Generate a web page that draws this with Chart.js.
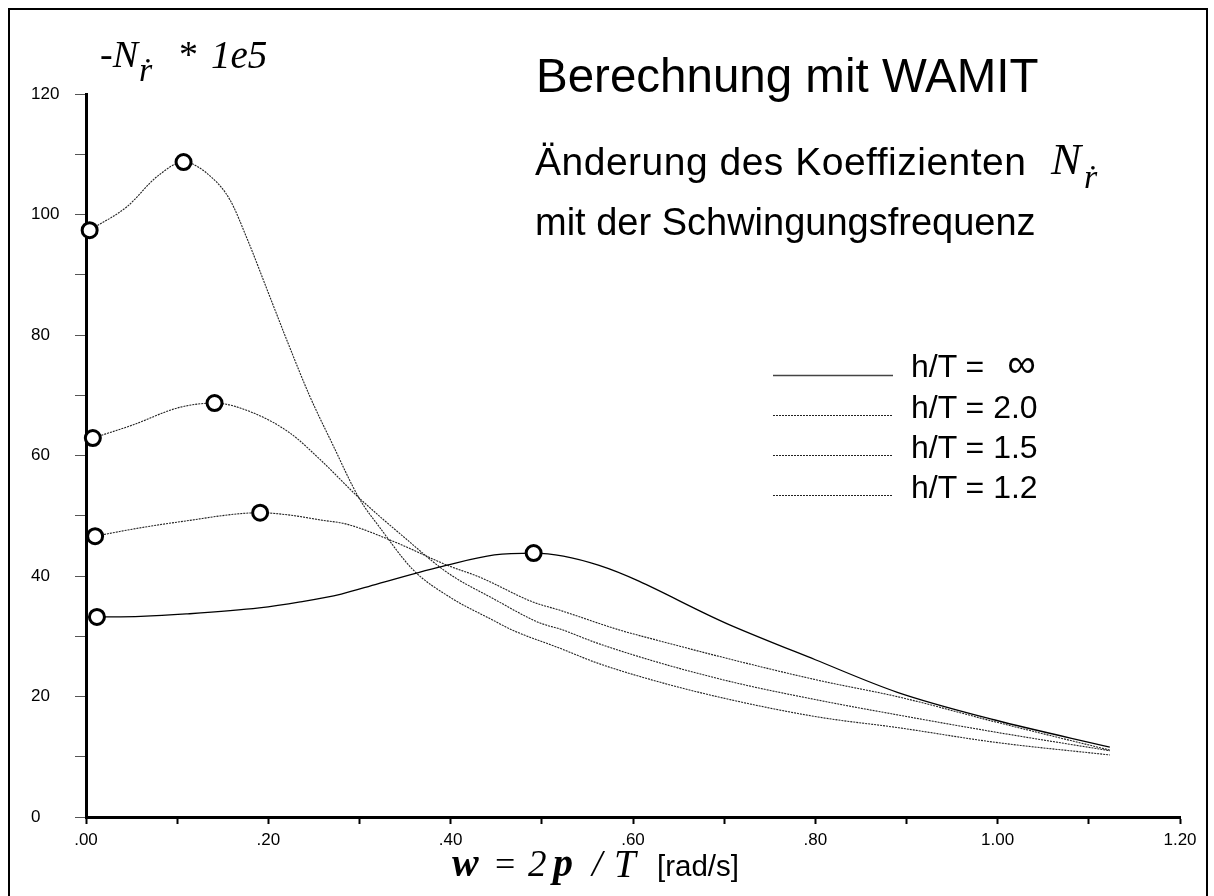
<!DOCTYPE html>
<html>
<head>
<meta charset="utf-8">
<script src="https://cdn.jsdelivr.net/npm/chart.js@4.4.1/dist/chart.umd.min.js"></script>
<style>
  body { margin: 0; background: #fff; width: 1214px; height: 896px; overflow: hidden; position: relative;
         font-family: Arial, "Liberation Sans", sans-serif; }
  #frame { position: absolute; left: 8px; top: 8px; width: 1196px; height: 940px; border: 2px solid #000; }
  #plot { position: absolute; left: 0; top: 0; }
  .t { position: absolute; white-space: nowrap; line-height: 1; color: #000; }
  .ser { font-family: "Liberation Serif", "Times New Roman", "DejaVu Serif", serif; font-style: italic; }
</style>
</head>
<body>
<div id="frame"></div>
<canvas id="plot" width="1214" height="896"></canvas>

<!-- y axis title -->
<div class="t ser" style="left:100px;top:35px;font-size:38px">-N</div>
<div class="t ser" style="left:139px;top:53px;font-size:34px">ṙ</div>
<div class="t ser" style="left:179px;top:35px;font-size:38px;font-style:normal">*</div>
<div class="t ser" style="left:211px;top:35px;font-size:39px">1e5</div>

<!-- headings -->
<div class="t" style="left:536px;top:52px;font-size:47.5px">Berechnung mit WAMIT</div>
<div class="t" style="left:535px;top:142px;font-size:39px;letter-spacing:0.5px">Änderung des Koeffizienten</div>
<div class="t ser" style="left:1051px;top:137px;font-size:45px">N</div>
<div class="t ser" style="left:1084px;top:160px;font-size:34px">ṙ</div>
<div class="t" style="left:535px;top:203px;font-size:38px">mit der Schwingungsfrequenz</div>

<!-- legend labels -->
<div class="t" style="left:911px;top:350px;font-size:32px">h/T = <span style="font-size:40px;line-height:0;margin-left:14px">∞</span></div>
<div class="t" style="left:911px;top:391px;font-size:32px">h/T = 2.0</div>
<div class="t" style="left:911px;top:431px;font-size:32px">h/T = 1.5</div>
<div class="t" style="left:911px;top:471px;font-size:32px">h/T = 1.2</div>

<!-- x axis title -->
<div class="t ser" style="left:452px;top:843px;font-size:40px;font-weight:bold">w</div>
<div class="t ser" style="left:495px;top:846px;font-size:36px;font-style:normal">=</div>
<div class="t ser" style="left:528px;top:845px;font-size:37px">2</div>
<div class="t ser" style="left:553px;top:843px;font-size:40px;font-weight:bold">p</div>
<div class="t ser" style="left:592px;top:845px;font-size:37px">/</div>
<div class="t ser" style="left:614px;top:844px;font-size:39px">T</div>
<div class="t" style="left:657px;top:851px;font-size:29.5px">[rad/s]</div>

<script>
// omega [rad/s] and -N_r' * 1e5 for each water depth ratio
const omegaInf = [0.012, 0.06, 0.11, 0.19, 0.235, 0.28, 0.32, 0.396, 0.448, 0.491, 0.562, 0.706, 0.80, 0.89, 0.997, 1.123];
const nrInf    = [33.2, 33.3, 33.7, 34.7, 35.7, 37.0, 38.7, 41.8, 43.5, 43.8, 41.8, 31.9, 26.1, 20.7, 16.1, 11.6];

const omega20 = [0.010, 0.052, 0.103, 0.191, 0.224, 0.257, 0.286, 0.341, 0.396, 0.432, 0.49, 0.52, 0.586, 0.625, 0.709, 0.803, 0.892, 0.997, 1.123];
const nr20    = [46.6, 47.8, 49.0, 50.5, 50.1, 49.3, 48.6, 45.5, 41.8, 39.8, 35.7, 34.3, 31.0, 29.4, 26.1, 22.7, 19.9, 15.8, 11.1];

const omega15 = [0.0075, 0.05, 0.103, 0.141, 0.183, 0.224, 0.257, 0.300, 0.35, 0.396, 0.446, 0.498, 0.52, 0.56, 0.629, 0.709, 0.803, 0.892, 0.997, 1.123];
const nr15    = [62.9, 65.0, 68.0, 68.7, 67.1, 63.7, 59.3, 52.9, 46.3, 40.6, 36.3, 32.2, 31.2, 28.9, 25.6, 22.4, 19.4, 16.9, 14.1, 11.0];

const omega12 = [0.004, 0.045, 0.078, 0.107, 0.139, 0.158, 0.178, 0.200, 0.222, 0.245, 0.27, 0.300, 0.322, 0.359, 0.399, 0.446, 0.468, 0.52, 0.56, 0.629, 0.709, 0.803, 0.892, 0.997, 1.123];
const nr12    = [97.4, 101.3, 106.3, 108.7, 106.0, 102.4, 95.5, 87.0, 78.5, 70.0, 62.0, 52.8, 48.1, 41.0, 36.5, 32.7, 31.0, 28.0, 25.6, 22.4, 19.4, 16.6, 14.8, 12.4, 10.3];

const seriesLabels = ['h/T = ∞', 'h/T = 2.0', 'h/T = 1.5', 'h/T = 1.2'];

// circles go on the first sample and on the maximum of each curve
function markedPoints(ys) {
  let top = 0;
  ys.forEach((v, i) => { if (v > ys[top]) top = i; });
  return [0, top];
}

function makeSeries(label, xs, ys, dashed) {
  const marks = markedPoints(ys);
  return {
    label,
    data: xs.map((x, i) => ({ x, y: ys[i] })),
    borderColor: dashed ? '#222' : '#000',
    borderWidth: dashed ? 1.1 : 1.3,
    borderDash: dashed ? [2, 1] : [],
    cubicInterpolationMode: 'monotone',
    pointRadius: c => marks.includes(c.dataIndex) ? 7.5 : 0,
    pointBorderWidth: 3,
    pointBorderColor: '#000',
    pointBackgroundColor: '#fff',
    clip: false
  };
}

// line samples next to the legend labels
const legendKeys = {
  id: 'legendKeys',
  afterDraw(chart) {
    const ctx = chart.ctx;
    chart.data.datasets.forEach((ds, i) => {
      const y = 375 + i * 40 + 0.5;
      ctx.save();
      ctx.strokeStyle = i ? ds.borderColor : '#444';
      ctx.lineWidth = i ? ds.borderWidth : 1.6;
      ctx.setLineDash(ds.borderDash);
      ctx.beginPath();
      ctx.moveTo(773, y);
      ctx.lineTo(893, y);
      ctx.stroke();
      ctx.restore();
    });
  }
};

new Chart(document.getElementById('plot'), {
  type: 'line',
  data: {
    datasets: [
      makeSeries(seriesLabels[0], omegaInf, nrInf, false),
      makeSeries(seriesLabels[1], omega20, nr20, true),
      makeSeries(seriesLabels[2], omega15, nr15, true),
      makeSeries(seriesLabels[3], omega12, nr12, true)
    ]
  },
  options: {
    responsive: false,
    animation: false,
    events: [],
    layout: { padding: { left: 31, top: 94, right: 34, bottom: 0 } },
    plugins: { legend: { display: false }, tooltip: { enabled: false } },
    scales: {
      x: {
        type: 'linear',
        min: 0, max: 1.2,
        afterFit: s => { s.height = 79; },
        border: { width: 3, color: '#000' },
        grid: { drawOnChartArea: false, drawTicks: true, tickLength: 7, tickWidth: 2, tickColor: '#000' },
        ticks: {
          stepSize: 0.1, autoSkip: false, maxRotation: 0, padding: 6,
          color: '#000', font: { family: 'Arial', size: 17 },
          callback: v => {
            const k = Math.round(v * 10);
            if (k % 2) return '';
            const s = (k / 10).toFixed(2);
            return s.startsWith('0') ? s.slice(1) : s;
          }
        }
      },
      y: {
        min: 0, max: 120,
        afterFit: s => { s.width = 55; },
        border: { width: 3, color: '#000' },
        grid: { drawOnChartArea: false, drawTicks: true, tickLength: 11, tickWidth: 1, tickColor: '#555' },
        ticks: {
          stepSize: 10, crossAlign: 'far',
          color: '#000', font: { family: 'Arial', size: 17 },
          callback: v => (Math.round(v) % 20 === 0 ? String(Math.round(v)) : '')
        }
      }
    }
  },
  plugins: [legendKeys]
});
</script>
</body>
</html>
